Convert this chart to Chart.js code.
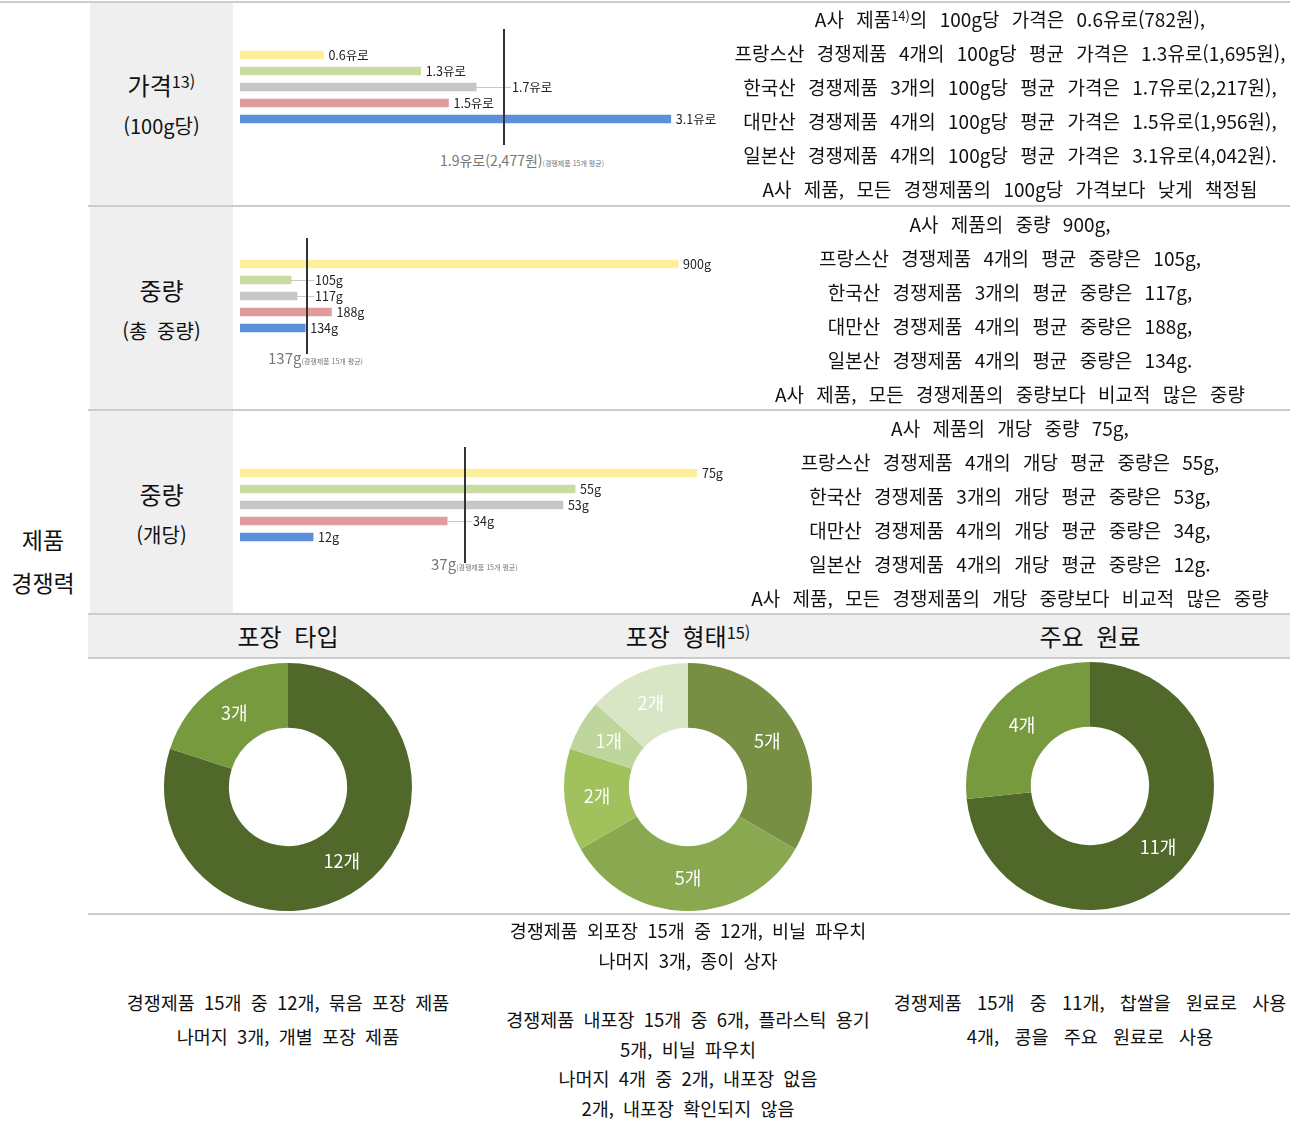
<!DOCTYPE html>
<html lang="ko">
<head>
<meta charset="utf-8">
<title>제품 경쟁력</title>
<script src="https://cdn.jsdelivr.net/npm/chart.js@4"></script>
<style>
  body { margin: 0; background: #fff; font-family: "Noto Sans CJK KR", sans-serif; color: #111; }
  #page { position: relative; width: 1302px; height: 1121px; overflow: hidden; }
  .abs { position: absolute; }
  .hl { position: absolute; height: 2px; background: #cccccc; }
  .cell { position: absolute; left: 90px; width: 143px; text-align: center; white-space: nowrap; }
  .cell .t { font-size: 24px; line-height: 30px; }
  .cell .s { font-size: 20px; line-height: 30px; margin-top: 11px; word-spacing: 4px; }
  .desc { position: absolute; left: 710px; width: 600px; text-align: center; font-size: 19px; line-height: 34px; white-space: nowrap; word-spacing: 7px; }
  .foot { position: absolute; text-align: center; font-size: 18.5px; white-space: nowrap; word-spacing: 4px; }
  .head { position: absolute; top: 619px; font-size: 24px; line-height: 34px; text-align: center; width: 300px; word-spacing: 6px; }
  .sup { font-size: 0.68em; vertical-align: 0.45em; line-height: 0; }
  .avg { position: absolute; color: #777; font-size: 14px; white-space: nowrap; }
  .avg small { font-size: 7px; }
  canvas { position: absolute; }
</style>
</head>
<body>
<div id="page">
  <!-- 회색 칸, 가로선 -->
  <div class="abs" style="left:90px;top:3px;width:143px;height:611px;background:#efefef;"></div>
  <div class="abs" style="left:88px;top:615px;width:1202px;height:43px;background:#efefef;"></div>
  <div class="hl" style="left:0;top:1px;width:1290px;"></div>
  <div class="hl" style="left:88px;top:205px;width:1202px;"></div>
  <div class="hl" style="left:88px;top:409px;width:1202px;"></div>
  <div class="hl" style="left:88px;top:613px;width:1202px;"></div>
  <div class="hl" style="left:88px;top:657px;width:1202px;"></div>
  <div class="hl" style="left:88px;top:913px;width:1202px;"></div>

  <div class="abs" style="left:0;top:518px;width:86px;text-align:center;font-size:23px;line-height:43px;">제품<br>경쟁력</div>

  <div class="cell" style="top:70px;"><div class="t">가격<span class="sup">13)</span></div><div class="s">(100g당)</div></div>
  <div class="cell" style="top:275px;"><div class="t">중량</div><div class="s">(총 중량)</div></div>
  <div class="cell" style="top:479px;"><div class="t">중량</div><div class="s">(개당)</div></div>

  <canvas id="priceChart" width="500" height="116" style="left:240px;top:29px;"></canvas>
  <canvas id="totalChart" width="500" height="116" style="left:240px;top:238px;"></canvas>
  <canvas id="unitChart" width="500" height="116" style="left:240px;top:447px;"></canvas>

  <div class="avg" style="left:440px;top:150px;">1.9유로(2,477원)<small>(경쟁제품 15개 평균)</small></div>
  <div class="avg" style="left:268px;top:347px;font-size:15px;">137g<small>(경쟁제품 15개 평균)</small></div>
  <div class="avg" style="left:431px;top:553px;font-size:15px;">37g<small>(경쟁제품 15개 평균)</small></div>

  <div class="desc" style="top:2px;">
    A사 제품<span class="sup">14)</span>의 100g당 가격은 0.6유로(782원),<br>
    프랑스산 경쟁제품 4개의 100g당 평균 가격은 1.3유로(1,695원),<br>
    한국산 경쟁제품 3개의 100g당 평균 가격은 1.7유로(2,217원),<br>
    대만산 경쟁제품 4개의 100g당 평균 가격은 1.5유로(1,956원),<br>
    일본산 경쟁제품 4개의 100g당 평균 가격은 3.1유로(4,042원).<br>
    A사 제품, 모든 경쟁제품의 100g당 가격보다 낮게 책정됨
  </div>
  <div class="desc" style="top:207px;">
    A사 제품의 중량 900g,<br>
    프랑스산 경쟁제품 4개의 평균 중량은 105g,<br>
    한국산 경쟁제품 3개의 평균 중량은 117g,<br>
    대만산 경쟁제품 4개의 평균 중량은 188g,<br>
    일본산 경쟁제품 4개의 평균 중량은 134g.<br>
    A사 제품, 모든 경쟁제품의 중량보다 비교적 많은 중량
  </div>
  <div class="desc" style="top:411px;">
    A사 제품의 개당 중량 75g,<br>
    프랑스산 경쟁제품 4개의 개당 평균 중량은 55g,<br>
    한국산 경쟁제품 3개의 개당 평균 중량은 53g,<br>
    대만산 경쟁제품 4개의 개당 평균 중량은 34g,<br>
    일본산 경쟁제품 4개의 개당 평균 중량은 12g.<br>
    A사 제품, 모든 경쟁제품의 개당 중량보다 비교적 많은 중량
  </div>

  <div class="head" style="left:138px;">포장 타입</div>
  <div class="head" style="left:538px;">포장 형태<span class="sup">15)</span></div>
  <div class="head" style="left:940px;">주요 원료</div>

  <canvas id="packTypeChart" width="260" height="260" style="left:158px;top:657px;"></canvas>
  <canvas id="packFormChart" width="260" height="260" style="left:558px;top:657px;"></canvas>
  <canvas id="ingredientChart" width="260" height="260" style="left:960px;top:656px;"></canvas>

  <div class="foot" style="left:88px;width:400px;top:985px;line-height:34px;">
    경쟁제품 15개 중 12개, 묶음 포장 제품<br>나머지 3개, 개별 포장 제품
  </div>
  <div class="foot" style="left:488px;width:400px;top:915px;line-height:30px;">
    경쟁제품 외포장 15개 중 12개, 비닐 파우치<br>나머지 3개, 종이 상자
  </div>
  <div class="foot" style="left:488px;width:400px;top:1005px;line-height:29.7px;">
    경쟁제품 내포장 15개 중 6개, 플라스틱 용기<br>5개, 비닐 파우치<br>나머지 4개 중 2개, 내포장 없음<br>2개, 내포장 확인되지 않음
  </div>
  <div class="foot" style="left:880px;width:420px;top:985px;line-height:34px;word-spacing:10px;">
    경쟁제품 15개 중 11개, 찹쌀을 원료로 사용<br>4개, 콩을 주요 원료로 사용
  </div>
</div>

<script>
(function() {
    'use strict';

    // 막대 그래프 데이터 (A사, 프랑스산, 한국산, 대만산, 일본산)
    var groups = ['A사 제품', '프랑스산', '한국산', '대만산', '일본산'];
    var priceValues = [0.6, 1.3, 1.7, 1.5, 3.1];       // 100g당 가격 (유로)
    var priceAvg = 1.9;
    var totalWeightValues = [900, 105, 117, 188, 134];  // 총 중량 (g)
    var totalWeightAvg = 137;
    var unitWeightValues = [75, 55, 53, 34, 12];        // 개당 중량 (g)
    var unitWeightAvg = 37;

    // 도넛 그래프 데이터
    var packTypeLabels = ['묶음 포장', '개별 포장'];
    var packTypeValues = [12, 3];
    var packFormLabels = ['형태 1', '형태 2', '형태 3', '형태 4', '형태 5'];
    var packFormValues = [5, 5, 2, 1, 2];
    var ingredientLabels = ['찹쌀', '콩'];
    var ingredientValues = [11, 4];

    var barColors = ['#fdee9b', '#c9dda1', '#c6c6c6', '#e09b9b', '#5b8fd9'];
    var FONT = '"Noto Sans CJK KR", sans-serif';

    // 평균선 + 값 라벨
    var avgLinePlugin = {
        id: 'avgLine',
        afterDatasetsDraw: function(chart, args, opts) {
            var ctx = chart.ctx;
            var area = chart.chartArea;
            var ax = Math.round(chart.scales.x.getPixelForValue(opts.value));
            var values = chart.data.datasets[0].data;
            var meta = chart.getDatasetMeta(0);

            ctx.save();
            ctx.font = '12.5px ' + FONT;
            ctx.textBaseline = 'middle';
            meta.data.forEach(function(bar, i) {
                var txt = values[i] + opts.unit;
                var w = ctx.measureText(txt).width;
                var x = bar.x + 5;
                if (x < ax + 3 && x + w > ax - 3) {
                    ctx.strokeStyle = '#c8c8c8';
                    ctx.lineWidth = 1;
                    ctx.beginPath();
                    ctx.moveTo(bar.x, Math.round(bar.y) + 0.5);
                    ctx.lineTo(ax + 7, Math.round(bar.y) + 0.5);
                    ctx.stroke();
                    x = ax + 8;
                }
                ctx.fillStyle = '#222';
                ctx.fillText(txt, x, bar.y);
            });

            ctx.strokeStyle = '#333';
            ctx.lineWidth = 2;
            ctx.beginPath();
            ctx.moveTo(ax, area.top - 18);
            ctx.lineTo(ax, area.bottom + 18);
            ctx.stroke();
            ctx.restore();
        }
    };

    function createBarChart(id, values, avg, max, unit) {
        var el = document.getElementById(id);
        if (!el) return;
        return new Chart(el, {
            type: 'bar',
            data: {
                labels: groups,
                datasets: [{
                    data: values,
                    backgroundColor: barColors,
                    borderWidth: 0,
                    barThickness: 8
                }]
            },
            options: {
                indexAxis: 'y',
                responsive: false,
                animation: false,
                layout: { padding: { top: 18, bottom: 18, left: 0, right: 40 } },
                plugins: {
                    legend: { display: false },
                    tooltip: { enabled: false },
                    avgLine: { value: avg, unit: unit }
                },
                scales: {
                    x: { display: false, min: 0, max: max },
                    y: { display: false }
                }
            },
            plugins: [avgLinePlugin]
        });
    }

    // 도넛 조각 안 라벨
    var sliceLabelPlugin = {
        id: 'sliceLabel',
        afterDatasetsDraw: function(chart) {
            var ctx = chart.ctx;
            var values = chart.data.datasets[0].data;
            ctx.save();
            ctx.font = '18px ' + FONT;
            ctx.fillStyle = '#fff';
            ctx.textAlign = 'center';
            ctx.textBaseline = 'middle';
            chart.getDatasetMeta(0).data.forEach(function(arc, i) {
                var p = arc.tooltipPosition();
                ctx.fillText(values[i] + '개', p.x, p.y);
            });
            ctx.restore();
        }
    };

    function createDonut(id, labels, values, colors) {
        var el = document.getElementById(id);
        if (!el) return;
        return new Chart(el, {
            type: 'doughnut',
            data: {
                labels: labels,
                datasets: [{ data: values, backgroundColor: colors, borderWidth: 0 }]
            },
            options: {
                responsive: false,
                animation: false,
                radius: 124,
                cutout: 62,
                plugins: { legend: { display: false }, tooltip: { enabled: false } }
            },
            plugins: [sliceLabelPlugin]
        });
    }

    function init() {
        if (typeof Chart === 'undefined') {
            console.error('Chart.js not loaded');
            return;
        }
        createBarChart('priceChart', priceValues, priceAvg, 3.31, '유로');
        createBarChart('totalChart', totalWeightValues, totalWeightAvg, 945, 'g');
        createBarChart('unitChart', unitWeightValues, unitWeightAvg, 75.5, 'g');

        createDonut('packTypeChart', packTypeLabels, packTypeValues, ['#51682b', '#789a3e']);
        createDonut('packFormChart', packFormLabels, packFormValues,
            ['#778f43', '#8aa84f', '#a0c15b', '#bed59c', '#d9e6c6']);
        createDonut('ingredientChart', ingredientLabels, ingredientValues, ['#51682b', '#789a3e']);
    }

    if (document.readyState === 'loading') {
        document.addEventListener('DOMContentLoaded', init);
    } else {
        init();
    }
})();
</script>
</body>
</html>
